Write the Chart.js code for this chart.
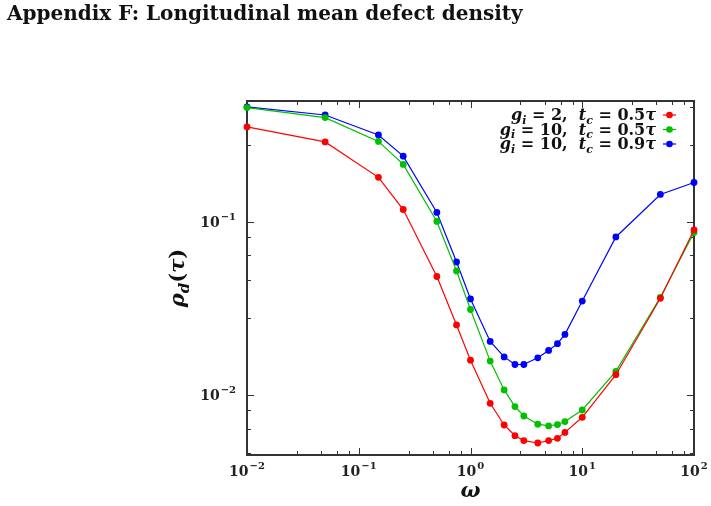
<!DOCTYPE html>
<html>
<head>
<meta charset="utf-8">
<script src="https://cdn.jsdelivr.net/npm/chart.js@4"></script>
<style>
  body { margin: 0; background: #fff; }
  #wrap { position: relative; width: 711px; height: 506px; }
  #title { position: absolute; left: 7px; top: 1px; font: bold 20px "DejaVu Serif", serif; color: #111; white-space: nowrap; }
</style>
</head>
<body>
<div id="wrap">
  <div id="title">Appendix F: Longitudinal mean defect density</div>
  <canvas id="defectChart" width="711" height="506"></canvas>
</div>
<script>
// omega values (x axis)
const omega = [0.01, 0.05, 0.15, 0.25, 0.5, 0.75, 1, 1.5, 2, 2.5, 3, 4, 5, 6, 7, 10, 20, 50, 100];

// rho_d(tau) for each run
const rhoG2T05 = [0.354, 0.290, 0.181, 0.118, 0.0484, 0.0254, 0.0159, 0.00895, 0.00671, 0.00582,
    0.00545, 0.00528, 0.00545, 0.00562, 0.00608, 0.00743, 0.0131, 0.0362, 0.0899];
const rhoG10T05 = [0.458, 0.401, 0.292, 0.215, 0.1007, 0.0521, 0.0312, 0.0157, 0.0107, 0.00857,
    0.00756, 0.00678, 0.00663, 0.00675, 0.00702, 0.00819, 0.0137, 0.0367, 0.0868];
const rhoG10T09 = [0.462, 0.415, 0.318, 0.240, 0.1135, 0.0587, 0.0359, 0.0204, 0.0166, 0.0150,
    0.0150, 0.0164, 0.0181, 0.0198, 0.0224, 0.0349, 0.0819, 0.1442, 0.169];

const seriesLabels = ["g_i = 2,  t_c = 0.5τ", "g_i = 10,  t_c = 0.5τ", "g_i = 10,  t_c = 0.9τ"];
const seriesColors = ["#ff0000", "#00c000", "#0000ff"];

const xMajorTicks = [0.01, 0.1, 1, 10, 100];
const xTickLabels = ["−2", "−1", "0", "1", "2"];
const yMajorTicks = [0.01, 0.1];
const yTickLabels = ["−2", "−1"];
const minorSteps = [2.8, 4.6, 6.4, 8.2];

const serif = '"DejaVu Serif", serif';
const axisColor = "#333";

function toPoints(ys) {
    return omega.map((w, i) => ({ x: w, y: ys[i] }));
}

// draw "10" with a raised exponent
function drawPow(ctx, exp, x, y, align) {
    ctx.font = "bold 14px " + serif;
    const wBase = ctx.measureText("10").width;
    ctx.font = "bold 10px " + serif;
    const wExp = ctx.measureText(exp).width;
    const total = wBase + wExp + 1;
    let left = x;
    if (align === "center") left = x - total / 2;
    if (align === "right") left = x - total;
    ctx.textAlign = "left";
    ctx.textBaseline = "middle";
    ctx.font = "bold 14px " + serif;
    ctx.fillText("10", left, y);
    ctx.font = "bold 10px " + serif;
    ctx.fillText(exp, left + wBase + 1, y - 6);
}

// split a label like "g_i = 2" into pieces, letters italic, "_x" subscript
function mathPieces(str) {
    const out = [];
    for (let i = 0; i < str.length; i++) {
        const ch = str[i];
        if (ch === "_") {
            out.push({ t: str[i + 1], sub: true, it: true });
            i++;
        } else {
            out.push({ t: ch, sub: false, it: /[a-zα-ω]/.test(ch) });
        }
    }
    return out;
}

function pieceFont(p, size) {
    const s = p.sub ? Math.round(size * 0.7) : size;
    return (p.it ? "italic " : "") + "bold " + s + "px " + serif;
}

function drawMath(ctx, str, x, y, size, align) {
    const pieces = mathPieces(str);
    let total = 0;
    pieces.forEach((p) => {
        ctx.font = pieceFont(p, size);
        p.w = ctx.measureText(p.t).width;
        total += p.w;
    });
    let cx = align === "right" ? x - total : align === "center" ? x - total / 2 : x;
    ctx.textAlign = "left";
    ctx.textBaseline = "alphabetic";
    pieces.forEach((p) => {
        ctx.font = pieceFont(p, size);
        ctx.fillText(p.t, cx, p.sub ? y + size * 0.22 : y);
        cx += p.w;
    });
}

const framePlugin = {
    id: "frame",
    beforeDatasetsDraw(chart) {
        const { ctx, chartArea: a, scales } = chart;
        ctx.save();
        ctx.strokeStyle = axisColor;
        ctx.lineWidth = 1;

        // inside ticks, all four sides
        const xs = scales.x, ys = scales.y;
        const tick = (v, len, horiz) => {
            if (horiz) {
                const px = Math.round(xs.getPixelForValue(v)) + 0.5;
                ctx.beginPath();
                ctx.moveTo(px, a.bottom); ctx.lineTo(px, a.bottom - len);
                ctx.moveTo(px, a.top); ctx.lineTo(px, a.top + len);
                ctx.stroke();
            } else {
                const py = Math.round(ys.getPixelForValue(v)) + 0.5;
                ctx.beginPath();
                ctx.moveTo(a.left, py); ctx.lineTo(a.left + len, py);
                ctx.moveTo(a.right, py); ctx.lineTo(a.right - len, py);
                ctx.stroke();
            }
        };
        for (let e = -3; e <= 2; e++) {
            const base = Math.pow(10, e);
            if (base >= xs.min && base <= xs.max) tick(base, 7, true);
            if (base >= ys.min && base <= ys.max) tick(base, 7, false);
            minorSteps.forEach((m) => {
                const v = base * m;
                if (v > xs.min && v < xs.max) tick(v, 4, true);
                if (v > ys.min && v < ys.max) tick(v, 4, false);
            });
        }

        ctx.lineWidth = 2;
        ctx.strokeRect(a.left, a.top, a.right - a.left, a.bottom - a.top);

        // tick labels
        ctx.fillStyle = "#222";
        xMajorTicks.forEach((v, i) => {
            drawPow(ctx, xTickLabels[i], xs.getPixelForValue(v), a.bottom + 17, "center");
        });
        yMajorTicks.forEach((v, i) => {
            drawPow(ctx, yTickLabels[i], a.left - 11, ys.getPixelForValue(v) + 1, "right");
        });

        // axis titles
        ctx.fillStyle = "#111";
        drawMath(ctx, "ω", (a.left + a.right) / 2, a.bottom + 42, 21, "center");
        ctx.save();
        ctx.translate(a.left - 69, (a.top + a.bottom) / 2);
        ctx.rotate(-Math.PI / 2);
        drawMath(ctx, "ρ_d(τ)", 0, 6, 21, "center");
        ctx.restore();
        ctx.restore();
    },
    afterDraw(chart) {
        const { ctx, chartArea: a } = chart;
        ctx.save();
        chart.data.datasets.forEach((ds, i) => {
            const y = a.top + 19 + i * 14.5;
            ctx.fillStyle = "#111";
            drawMath(ctx, ds.label, a.right - 38, y, 16, "right");
            ctx.strokeStyle = ds.borderColor;
            ctx.lineWidth = 1.2;
            ctx.beginPath();
            ctx.moveTo(a.right - 31, y - 5);
            ctx.lineTo(a.right - 18, y - 5);
            ctx.stroke();
            ctx.fillStyle = ds.borderColor;
            ctx.beginPath();
            ctx.arc(a.right - 24.5, y - 5, 3.3, 0, Math.PI * 2);
            ctx.fill();
        });
        ctx.restore();
    }
};

document.addEventListener("DOMContentLoaded", function () {
    const series = [rhoG2T05, rhoG10T05, rhoG10T09];
    const ctx = document.getElementById("defectChart").getContext("2d");
    new Chart(ctx, {
        type: "line",
        data: {
            datasets: series.map((ys, i) => ({
                label: seriesLabels[i],
                data: toPoints(ys),
                borderColor: seriesColors[i],
                backgroundColor: seriesColors[i],
                borderWidth: 1.2,
                pointRadius: 3.4,
                pointBorderWidth: 0,
                tension: 0,
                clip: false,
            })),
        },
        options: {
            responsive: false,
            animation: false,
            events: [],
            layout: { padding: { left: 247, right: 17, top: 101, bottom: 51 } },
            scales: {
                x: {
                    type: "logarithmic",
                    min: 0.01,
                    max: 100,
                    ticks: { display: false },
                    grid: { display: false, drawTicks: false },
                    border: { display: false },
                },
                y: {
                    type: "logarithmic",
                    min: 0.0045,
                    max: 0.5,
                    ticks: { display: false },
                    grid: { display: false, drawTicks: false },
                    border: { display: false },
                },
            },
            plugins: {
                legend: { display: false },
                tooltip: { enabled: false },
            },
        },
        plugins: [framePlugin],
    });
});
</script>
</body>
</html>
